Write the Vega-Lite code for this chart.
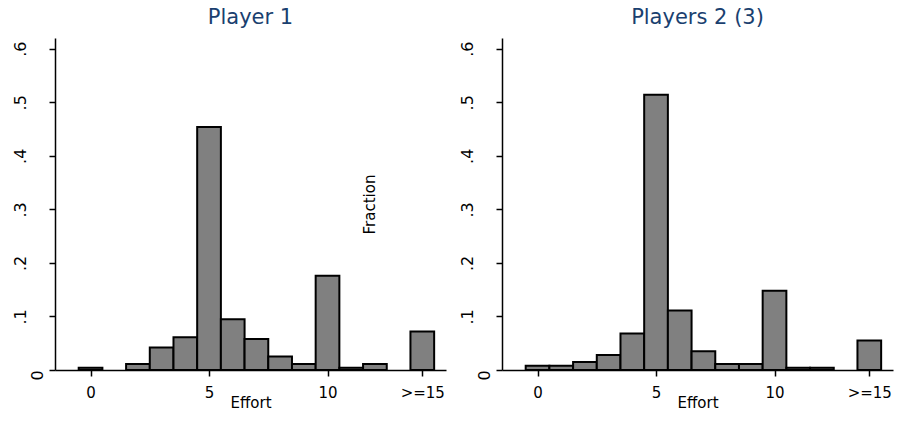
{
  "$schema": "https://vega.github.io/schema/vega-lite/v6.json",
  "background": "white",
  "padding": {"left": 11, "top": 7, "right": 2, "bottom": 14},
  "spacing": 56,
  "bounds": "flush",
  "config": {
    "view": {"stroke": null},
    "font": "DejaVu Sans",
    "axis": {
      "grid": false,
      "domainColor": "black",
      "domainWidth": 1.5,
      "tickColor": "black",
      "tickWidth": 1.5,
      "tickSize": 6,
      "labelColor": "black",
      "titleColor": "black",
      "labelFont": "DejaVu Sans",
      "titleFont": "DejaVu Sans",
      "titleFontWeight": "normal",
      "labelFlush": false,
      "labelOverlap": false
    },
    "title": {"font": "DejaVu Sans", "fontSize": 21, "fontWeight": "normal", "color": "#1a3f6f", "baseline": "alphabetic", "offset": 10, "anchor": "middle"}
  },
  "datasets": {
    "p1": [
      {"effort": 0, "lo": -0.5, "hi": 0.5, "fraction": 0.004},
      {"effort": 2, "lo": 1.5, "hi": 2.5, "fraction": 0.011},
      {"effort": 3, "lo": 2.5, "hi": 3.5, "fraction": 0.042},
      {"effort": 4, "lo": 3.5, "hi": 4.5, "fraction": 0.061},
      {"effort": 5, "lo": 4.5, "hi": 5.5, "fraction": 0.454},
      {"effort": 6, "lo": 5.5, "hi": 6.5, "fraction": 0.095},
      {"effort": 7, "lo": 6.5, "hi": 7.5, "fraction": 0.058},
      {"effort": 8, "lo": 7.5, "hi": 8.5, "fraction": 0.025},
      {"effort": 9, "lo": 8.5, "hi": 9.5, "fraction": 0.011},
      {"effort": 10, "lo": 9.5, "hi": 10.5, "fraction": 0.176},
      {"effort": 11, "lo": 10.5, "hi": 11.5, "fraction": 0.004},
      {"effort": 12, "lo": 11.5, "hi": 12.5, "fraction": 0.011},
      {"effort": 14, "lo": 13.5, "hi": 14.5, "fraction": 0.072}
    ],
    "p2": [
      {"effort": 0, "lo": -0.5, "hi": 0.5, "fraction": 0.008},
      {"effort": 1, "lo": 0.5, "hi": 1.5, "fraction": 0.008},
      {"effort": 2, "lo": 1.5, "hi": 2.5, "fraction": 0.015},
      {"effort": 3, "lo": 2.5, "hi": 3.5, "fraction": 0.028},
      {"effort": 4, "lo": 3.5, "hi": 4.5, "fraction": 0.068},
      {"effort": 5, "lo": 4.5, "hi": 5.5, "fraction": 0.514},
      {"effort": 6, "lo": 5.5, "hi": 6.5, "fraction": 0.111},
      {"effort": 7, "lo": 6.5, "hi": 7.5, "fraction": 0.035},
      {"effort": 8, "lo": 7.5, "hi": 8.5, "fraction": 0.011},
      {"effort": 9, "lo": 8.5, "hi": 9.5, "fraction": 0.011},
      {"effort": 10, "lo": 9.5, "hi": 10.5, "fraction": 0.148},
      {"effort": 11, "lo": 10.5, "hi": 11.5, "fraction": 0.004},
      {"effort": 12, "lo": 11.5, "hi": 12.5, "fraction": 0.004},
      {"effort": 14, "lo": 13.5, "hi": 14.5, "fraction": 0.055}
    ]
  },
  "hconcat": [
    {
      "data": {"name": "p1"},
      "title": {"text": "Player 1"},
      "width": 391,
      "height": 332,
      "mark": {"type": "bar", "fill": "#808080", "stroke": "black", "strokeWidth": 2},
      "encoding": {
        "x": {
          "field": "lo", "type": "quantitative",
          "scale": {"domain": [-1.5, 15], "nice": false, "zero": false},
          "axis": {
            "title": "Effort",
            "values": [0, 5, 10, 14],
            "labelExpr": "datum.value == 14 ? '>=15' : datum.label",
            "labelFontSize": 15,
            "labelBaseline": "alphabetic",
            "labelPadding": 21.5,
            "titleFontSize": 15,
            "titleBaseline": "alphabetic",
            "titleY": 37
          }
        },
        "x2": {"field": "hi"},
        "y": {
          "field": "fraction", "type": "quantitative",
          "scale": {"domain": [0, 0.62], "nice": false},
          "axis": {
            "title": null,
            "values": [0, 0.1, 0.2, 0.3, 0.4, 0.5, 0.6],
            "labelExpr": "datum.value == 0 ? '0' : substring(format(datum.value, '.1f'), 1)",
            "labelAngle": -90,
            "labelAlign": "center",
            "labelBaseline": "alphabetic",
            "labelFontSize": 16,
            "labelPadding": {"condition": {"test": "datum.value == 0", "value": 7}, "value": 24},
            "labelOffset": {"condition": {"test": "datum.value == 0", "value": 5}, "value": 0}
          }
        },
        "y2": {"datum": 0}
      }
    },
    {
      "data": {"name": "p2"},
      "title": {"text": "Players 2 (3)"},
      "width": 391,
      "height": 332,
      "mark": {"type": "bar", "fill": "#808080", "stroke": "black", "strokeWidth": 2},
      "encoding": {
        "x": {
          "field": "lo", "type": "quantitative",
          "scale": {"domain": [-1.5, 15], "nice": false, "zero": false},
          "axis": {
            "title": "Effort",
            "values": [0, 5, 10, 14],
            "labelExpr": "datum.value == 14 ? '>=15' : datum.label",
            "labelFontSize": 15,
            "labelBaseline": "alphabetic",
            "labelPadding": 21.5,
            "titleFontSize": 15,
            "titleBaseline": "alphabetic",
            "titleY": 37
          }
        },
        "x2": {"field": "hi"},
        "y": {
          "field": "fraction", "type": "quantitative",
          "scale": {"domain": [0, 0.62], "nice": false},
          "axis": {
            "title": "Fraction",
            "titleFontSize": 15,
            "titleAngle": -90,
            "titleBaseline": "alphabetic",
            "titleX": -127.5,
            "values": [0, 0.1, 0.2, 0.3, 0.4, 0.5, 0.6],
            "labelExpr": "datum.value == 0 ? '0' : substring(format(datum.value, '.1f'), 1)",
            "labelAngle": -90,
            "labelAlign": "center",
            "labelBaseline": "alphabetic",
            "labelFontSize": 16,
            "labelPadding": {"condition": {"test": "datum.value == 0", "value": 7}, "value": 24},
            "labelOffset": {"condition": {"test": "datum.value == 0", "value": 5}, "value": 0}
          }
        },
        "y2": {"datum": 0}
      }
    }
  ]
}
